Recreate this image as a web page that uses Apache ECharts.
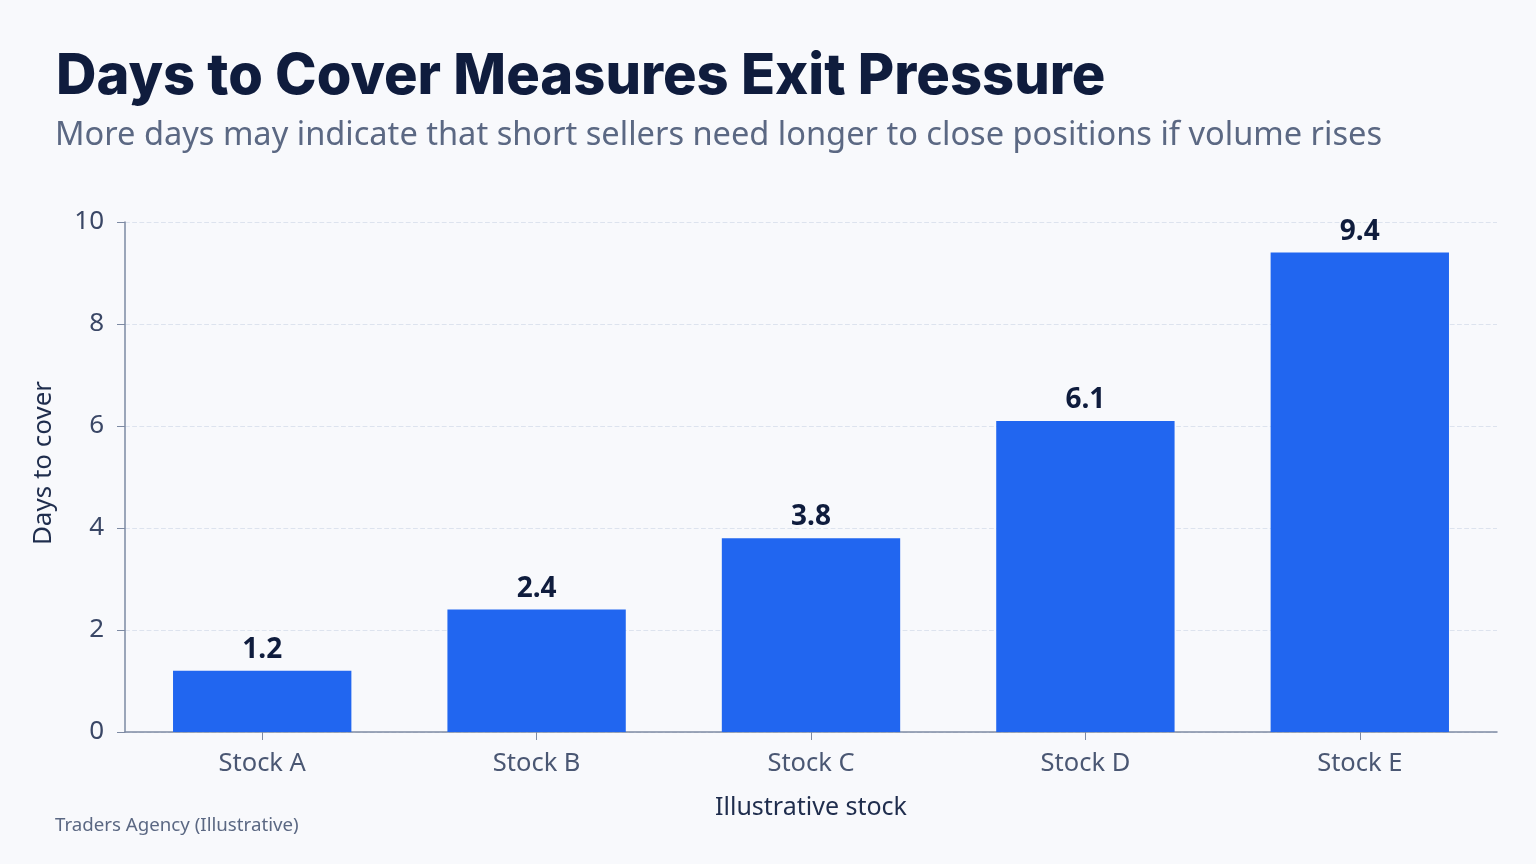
<!DOCTYPE html>
<html><head><meta charset="utf-8">
<script src="https://cdn.jsdelivr.net/npm/echarts@6/dist/echarts.min.js"></script>
<style>html,body{margin:0;padding:0;background:#f8f9fc;}#c{width:1536px;height:864px;}</style>
</head><body><div id="c"></div>
<script>
const categories = ['Stock A','Stock B','Stock C','Stock D','Stock E'];
const daysToCover = [1.2, 2.4, 3.8, 6.1, 9.4];
const yTicks = [0, 2, 4, 6, 8, 10];

const chart = echarts.init(document.getElementById('c'));
chart.setOption({
  backgroundColor: '#f8f9fc',
  title: [
    {text: 'Days to Cover Measures Exit Pressure', left: 51, top: 44,
     textStyle: {fontFamily: 'Inter', fontWeight: 800, fontSize: 56, color: '#0f1c3d'}},
    {text: 'More days may indicate that short sellers need longer to close positions if volume rises', left: 50, top: 114,
     textStyle: {fontFamily: 'Noto Sans', fontWeight: 'normal', fontSize: 32.6, color: '#5b6883'}},
    {text: 'Traders Agency (Illustrative)', left: 50, top: 811,
     textStyle: {fontFamily: 'Noto Sans', fontWeight: 'normal', fontSize: 18.7, color: '#5b6883'}}
  ],
  grid: {left: 125, right: 39, top: 222, bottom: 132},
  xAxis: {
    type: 'category', data: categories,
    name: 'Illustrative stock', nameLocation: 'middle', nameGap: 63,
    nameTextStyle: {fontFamily: 'Noto Sans', fontSize: 25, color: '#1f2d4d'},
    axisLine: {lineStyle: {color: '#7d8aa3', width: 1.5}},
    axisTick: {show: true, alignWithLabel: true, length: 8, lineStyle: {color: '#7d8aa3'}},
    axisLabel: {fontFamily: 'Noto Sans', fontSize: 25.5, color: '#4a5773', margin: 19}
  },
  yAxis: {
    type: 'value', min: yTicks[0], max: yTicks[yTicks.length-1], interval: 2,
    name: 'Days to cover', nameLocation: 'middle', nameGap: 68, nameRotate: 90,
    nameTextStyle: {fontFamily: 'Noto Sans', fontSize: 26, color: '#1f2d4d', padding: [0, 0, 0, 28]},
    axisLine: {show: true, lineStyle: {color: '#7d8aa3', width: 1.5}},
    axisTick: {show: true, length: 8, lineStyle: {color: '#7d8aa3'}},
    axisLabel: {fontFamily: 'Noto Sans', fontSize: 26, color: '#3a4766', margin: 21},
    splitLine: {lineStyle: {type: 'dashed', color: '#dde3ee', width: 1.2}}
  },
  series: [{
    type: 'bar', data: daysToCover, barWidth: '65%',
    itemStyle: {color: '#2166f0'},
    label: {show: true, position: 'top', distance: 7, formatter: p => p.value.toFixed(1),
      fontFamily: 'Noto Sans', fontWeight: 'bold', fontSize: 28, color: '#0f1c3d'}
  }]
});
</script></body></html>
